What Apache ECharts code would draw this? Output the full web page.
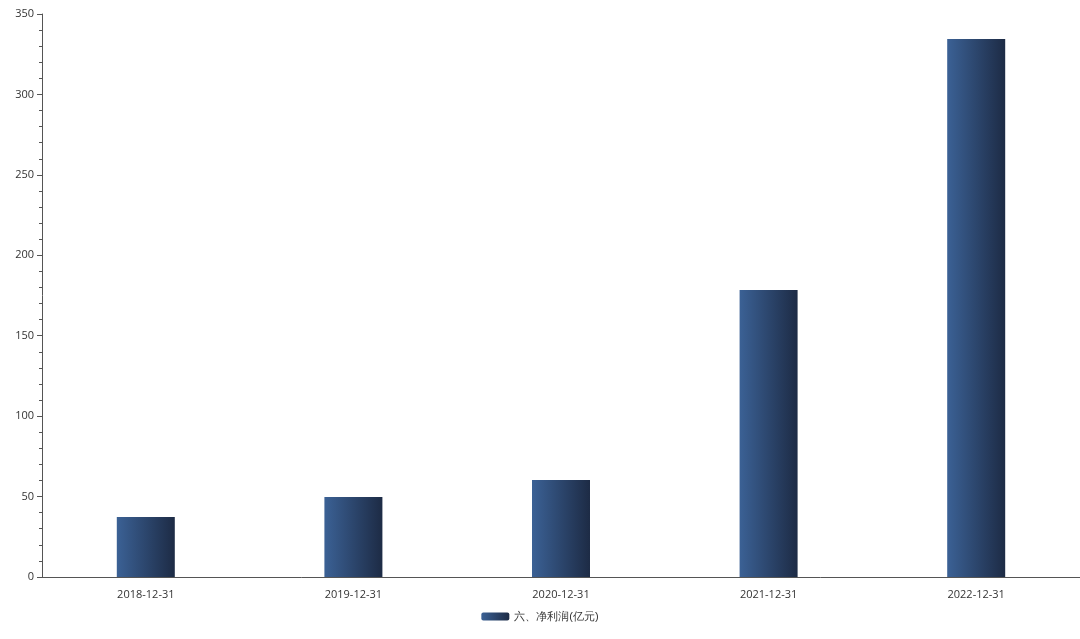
<!DOCTYPE html><html><head><meta charset="utf-8"><script src="https://cdn.jsdelivr.net/npm/echarts@6/dist/echarts.min.js"></script></head><body style="margin:0"><div id="c" style="width:1080px;height:639px"></div><script>
const categories=['2018-12-31','2019-12-31','2020-12-31','2021-12-31','2022-12-31'];
const values=[37.3,49.7,60.3,178.4,334.4];
const seriesName='六、净利润(亿元)';
const ch=echarts.init(document.getElementById('c'));
const grad=new echarts.graphic.LinearGradient(0,0,1,0,[{offset:0,color:'#3b6195'},{offset:1,color:'#1d2b45'}]);
const ax={color:'#333',fontSize:11,fontFamily:'Open Sans, sans-serif'};
ch.setOption({animation:false,
grid:{left:42,right:-22,top:14,bottom:62},
legend:{bottom:12,left:'center',itemWidth:28,itemHeight:8,textStyle:{fontSize:11,color:'#333'},data:[seriesName]},
xAxis:{type:'category',data:categories,axisLine:{lineStyle:{color:'#555'}},axisTick:{alignWithLabel:true,lineStyle:{color:'#555'}},axisLabel:{...ax,margin:12}},
yAxis:{type:'value',min:0,max:350,interval:50,splitLine:{show:false},axisLine:{show:true,lineStyle:{color:'#555'}},axisTick:{show:true,lineStyle:{color:'#555'}},minorTick:{show:true,splitNumber:5,length:3,lineStyle:{color:'#555'}},axisLabel:{...ax}},
series:[{name:seriesName,type:'bar',data:values,barWidth:58,itemStyle:{color:grad}}]});
</script></body></html>
